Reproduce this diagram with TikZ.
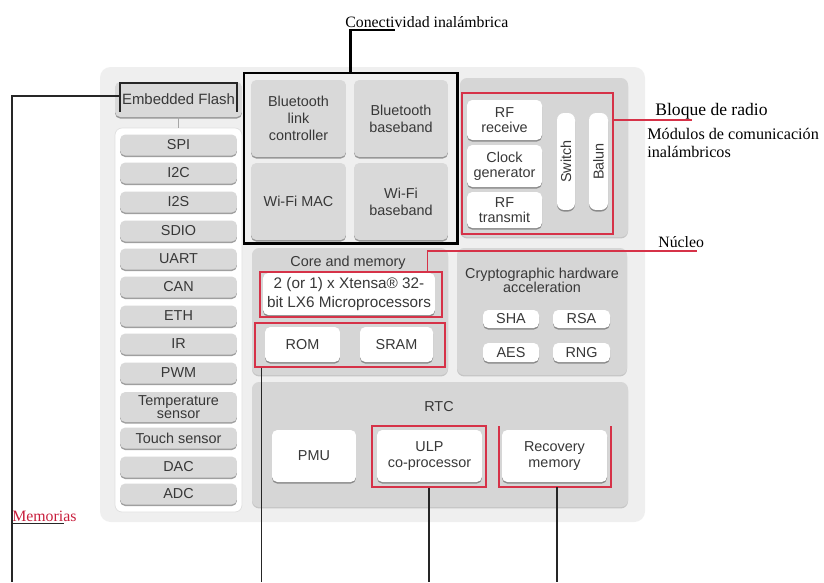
\documentclass[tikz,border=0pt]{standalone}
\usepackage{fontspec}
\setmainfont{Liberation Serif}
\setsansfont{Liberation Sans}
\usetikzlibrary{fit,shadows}

\definecolor{panelgris}{HTML}{EFEFEF}
\definecolor{bloquegris}{HTML}{D6D6D6}
\definecolor{cajagris}{HTML}{D9D9D9}
\definecolor{marcorojo}{RGB}{214,50,72}
\definecolor{memorojo}{RGB}{200,30,60}
\definecolor{textogris}{HTML}{383838}

\begin{document}
\begin{tikzpicture}[x=0.02cm, y=-0.02cm,
    caja/.style={rounded corners=3pt, inner sep=0pt, align=center, text=textogris,
      font=\sffamily\fontsize{8.2}{9.6}\selectfont,
      drop shadow={shadow xshift=0pt, shadow yshift=-0.9pt, opacity=0.5, fill=black!75}},
    cajagr/.style={caja, fill=cajagris},
    cajabl/.style={caja, fill=white},
    perif/.style={cajagr, minimum width=2.34cm, minimum height=0.42cm},
    bloque/.style={fill=bloquegris, rounded corners=4pt, inner sep=0pt,
      drop shadow={shadow xshift=0pt, shadow yshift=-0.8pt, opacity=0.3, fill=black!60}},
    titulo/.style={inner sep=0pt, align=center, text=textogris,
      font=\sffamily\fontsize{8.2}{8}\selectfont},
    marco/.style={draw=marcorojo, line width=0.7pt, inner sep=0pt},
    linea/.style={draw=black!85, line width=0.6pt},
    nota/.style={inner sep=0pt, anchor=base west, font=\fontsize{9}{10}\selectfont}]

    \useasboundingbox (0,0) rectangle (824,582);

    % fondo del chip
    \node[fill=panelgris, rounded corners=6pt, inner sep=0pt, fit={(100,67) (645,522)}] (chip) {};

    % memoria flash y perifericos
    \node[cajagr, font=\sffamily\fontsize{8.5}{9.6}\selectfont, minimum width=2.54cm, minimum height=0.7cm] (flash) at (178.5,99.5) {Embedded Flash};
    \node[fill=white, draw=black!12, rounded corners=4pt, inner sep=0pt, fit={(115,128) (242,512)}] (perifpanel) {};
    \draw[draw=black!35, line width=0.6pt] (flash.south) -- (perifpanel.north);

    \node[perif] (spi) at (178.5,145) {SPI};
    \node[perif] (i2c) at (178.5,173) {I2C};
    \node[perif] (i2s) at (178.5,202) {I2S};
    \node[perif] (sdio) at (178.5,231) {SDIO};
    \node[perif] (uart) at (178.5,259) {UART};
    \node[perif] (can) at (178.5,287) {CAN};
    \node[perif] (eth) at (178.5,316) {ETH};
    \node[perif] (ir) at (178.5,344) {IR};
    \node[perif] (pwm) at (178.5,373) {PWM};
    \node[perif, minimum height=0.6cm, font=\sffamily\fontsize{8.2}{7.4}\selectfont] (temp) at (178.5,407) {Temperature\\sensor};
    \node[perif] (touch) at (178.5,438) {Touch sensor};
    \node[perif] (dac) at (178.5,467) {DAC};
    \node[perif] (adc) at (178.5,494) {ADC};

    % conectividad inalambrica
    \node[cajagr, minimum width=1.9cm, minimum height=1.54cm] (btlink) at (298.5,118.5) {Bluetooth\\link\\controller};
    \node[cajagr, minimum width=1.88cm, minimum height=1.54cm] (btbase) at (401,118.5) {Bluetooth\\baseband};
    \node[cajagr, minimum width=1.9cm, minimum height=1.54cm] (wifimac) at (298.5,201.5) {Wi-Fi MAC};
    \node[cajagr, minimum width=1.88cm, minimum height=1.54cm] (wifibase) at (401,201.5) {Wi-Fi\\baseband};
    \node[draw=black, line width=1.7pt, inner sep=0pt, fit={(244,73) (457,243)}] (inal) {};

    % bloque de radio
    \node[bloque, fit={(460,78) (628,237)}] (radio) {};
    \node[cajabl, font=\sffamily\fontsize{8.2}{8.8}\selectfont, minimum width=1.5cm, minimum height=0.8cm] (rfrx) at (504.5,120) {RF\\receive};
    \node[cajabl, font=\sffamily\fontsize{8.2}{8.8}\selectfont, minimum width=1.5cm, minimum height=0.84cm] (reloj) at (504.5,166) {Clock\\generator};
    \node[cajabl, font=\sffamily\fontsize{8.2}{8.8}\selectfont, minimum width=1.5cm, minimum height=0.72cm] (rftx) at (504.5,210) {RF\\transmit};
    \node[cajabl, rounded corners=4pt, minimum width=0.36cm, minimum height=1.94cm] (switch) at (566,161.5) {\rotatebox{90}{Switch}};
    \node[cajabl, rounded corners=4pt, minimum width=0.38cm, minimum height=1.94cm] (balun) at (598.5,161.5) {\rotatebox{90}{Balun}};
    \node[marco, fit={(462,93) (613,234)}] (radiomarco) {};

    % nucleo y memoria
    \node[bloque, fit={(252,248) (448,375)}] (nucleo) {};
    \node[titulo] (nucleotit) at (348,263) {Core and memory};
    \node[cajabl, font=\sffamily\fontsize{8.7}{10.4}\selectfont, minimum width=3.44cm, minimum height=0.84cm] (cpu) at (349,294) {2 (or 1) x Xtensa® 32-\\bit LX6 Microprocessors};
    \node[marco, fit={(260,272) (442,317)}] (cpumarco) {};
    \node[cajabl, minimum width=1.5cm, minimum height=0.7cm] (rom) at (302.5,344.5) {ROM};
    \node[cajabl, minimum width=1.46cm, minimum height=0.7cm] (sram) at (396.5,344.5) {SRAM};
    \node[marco, fit={(255,323) (445,367)}] (memmarco) {};

    % criptografia
    \node[bloque, fit={(457,248) (627,375)}] (cripto) {};
    \node[titulo] (criptotit) at (542,280) {Cryptographic hardware\\acceleration};
    \node[cajabl, minimum width=1.12cm, minimum height=0.36cm] (sha) at (511,319) {SHA};
    \node[cajabl, minimum width=1.14cm, minimum height=0.36cm] (rsa) at (581.5,319) {RSA};
    \node[cajabl, minimum width=1.12cm, minimum height=0.38cm] (aes) at (511,352.5) {AES};
    \node[cajabl, minimum width=1.14cm, minimum height=0.38cm] (rng) at (581.5,352.5) {RNG};

    % RTC
    \node[bloque, fit={(252,382) (628,507)}] (rtc) {};
    \node[titulo] (rtctit) at (439,407) {RTC};
    \node[cajabl, minimum width=1.68cm, minimum height=1.04cm] (pmu) at (314,456) {PMU};
    \node[cajabl, minimum width=2.1cm, minimum height=1.04cm] (ulp) at (429.5,456) {ULP\\co-processor};
    \node[marco, fit={(372,426) (486,487)}] (ulpmarco) {};
    \node[cajabl, minimum width=2.1cm, minimum height=1.04cm] (recup) at (554.5,456) {Recovery\\memory};
    \draw[marco] (499,426) -- (499,487) -- (611,487) -- (611,426);
    \coordinate (recsal) at (557,487);

    % anotaciones
    \node[nota] (conect) at (345,27) {Conectividad inalámbrica};
    \coordinate (confin) at (395,30);
    \draw[draw=black, line width=1.4pt] (inal.north) |- (confin);

    \node[nota, font=\fontsize{10}{11}\selectfont] (bloquerad) at (655,115) {Bloque de radio};
    \node[nota, font=\fontsize{9.2}{11}\selectfont] (modulos) at (647,139) {Módulos de comunicación};
    \node[nota, font=\fontsize{9.2}{11}\selectfont] (inalamb) at (647,157) {inalámbricos};
    \coordinate (radfin) at (692,120);
    \draw[marco] (radfin -| radiomarco.east) -- (radfin);

    \node[nota] (nucleonota) at (658,247) {Núcleo};
    \coordinate (nucfin) at (697,251);
    \draw[marco] ([xshift=-0.3cm]cpumarco.north east) |- (nucfin);

    \node[nota, text=memorojo] (memo) at (12,521) {Memorias};
    \draw[linea] ([yshift=-1.2pt]memo.base west) -- ++(52,0);

    % lineas hacia abajo
    \coordinate (fondo) at (0,582);
    \draw[linea] (120,112) -- (120,83) -- (237,83) -- (237,112);
    \coordinate (memsal) at (120,96);
    \draw[linea] (memsal) -| (fondo -| memo.base west);
    \draw[linea] ([xshift=0.14cm]memmarco.south west) -- ([xshift=0.14cm]memmarco.south west |- fondo);
    \draw[linea] (ulpmarco.south) -- (ulpmarco.south |- fondo);
    \draw[linea] (recsal) -- (recsal |- fondo);

\end{tikzpicture}
\end{document}
